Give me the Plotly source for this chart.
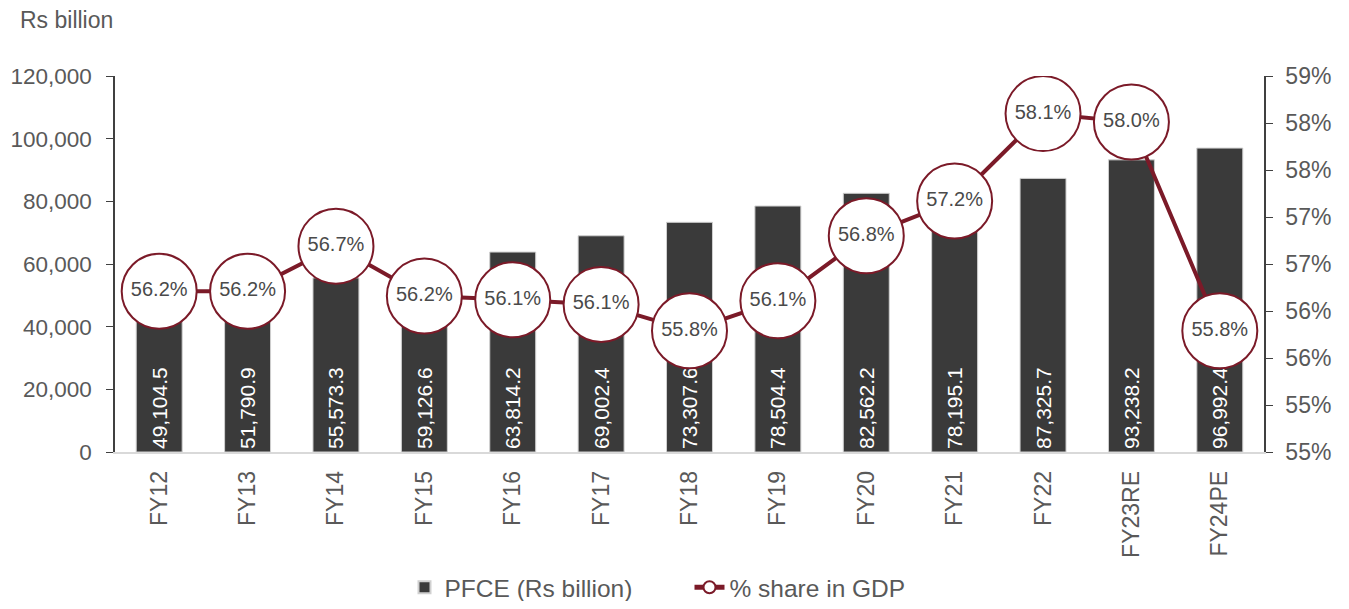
import plotly.graph_objects as go

years = ["FY12", "FY13", "FY14", "FY15", "FY16", "FY17", "FY18", "FY19",
         "FY20", "FY21", "FY22", "FY23RE", "FY24PE"]
pfce = [49104.5, 51790.9, 55573.3, 59126.6, 63814.2, 69002.4, 73307.6, 78504.4,
        82562.2, 78195.1, 87325.7, 93238.2, 96992.4]
share = [56.21, 56.21, 56.69, 56.16, 56.12, 56.07, 55.79, 56.11,
         56.80, 57.17, 58.10, 58.01, 55.79]
pct_ticks = [54.5, 55.0, 55.5, 56.0, 56.5, 57.0, 57.5, 58.0, 58.5]
pct_labels = ["55%", "55%", "56%", "56%", "57%", "57%", "58%", "58%", "59%"]

grey = "#595959"
maroon = "#7B1A28"
font = "Liberation Sans"

fig = go.Figure()
fig.add_trace(go.Bar(
    x=years, y=pfce, name="PFCE (Rs billion)",
    marker=dict(color="#3A3A3A", line=dict(color="#D0D0D0", width=1)),
    texttemplate="%{y:,.1f}", textposition="inside", textangle=-90,
    insidetextanchor="start",
    textfont=dict(color="white", size=21, family=font),
))
fig.add_trace(go.Scatter(
    x=years, y=share, name="% share in GDP", yaxis="y2",
    mode="lines+markers+text",
    line=dict(color=maroon, width=4),
    marker=dict(size=75, color="white", line=dict(color=maroon, width=2)),
    texttemplate="%{y:.1f}%", textposition="middle center",
    textfont=dict(color="#4A4A4A", size=20, family=font),
))

# page body has an 8px default margin, so the figure is 16px smaller
fig.update_layout(
    width=1333, height=593,
    margin=dict(l=107, r=77, t=68, b=149, autoexpand=False),
    plot_bgcolor="white", paper_bgcolor="white",
    font=dict(family=font, color=grey, size=22),
    bargap=0.48,
    showlegend=True,
    legend=dict(orientation="h", x=0.5, xanchor="center", y=-0.36, yanchor="middle",
                font=dict(size=24.5, color=grey), itemsizing="constant",
                entrywidth=240, entrywidthmode="pixels"),
    xaxis=dict(range=[-0.5, len(years) - 0.5], tickangle=-90, showline=True,
               linecolor="#D9D9D9", linewidth=1.5,
               ticks="", tickfont=dict(size=23, color=grey), automargin=False,
               ticklabelstandoff=8),
    yaxis=dict(range=[0, 120000], dtick=20000, tickformat=",", showgrid=False,
               showline=True, linecolor="#404040", linewidth=1.5,
               ticks="outside", ticklen=7, tickcolor="#404040", zeroline=False,
               tickfont=dict(size=22.5, color=grey), automargin=False,
               ticklabelstandoff=10),
    yaxis2=dict(range=[54.5, 58.5], overlaying="y", side="right",
                tickvals=pct_ticks, ticktext=pct_labels, showgrid=False,
                showline=True, linecolor="#404040", linewidth=1.5,
                ticks="outside", ticklen=7, tickcolor="#404040", zeroline=False,
                tickfont=dict(size=23, color=grey), automargin=False,
                ticklabelstandoff=8),
    annotations=[dict(text="Rs billion", xref="paper", yref="paper",
                      x=-0.0844, y=1.149, xanchor="left", yanchor="middle",
                      showarrow=False, font=dict(size=23, color=grey))],
)

fig.write_html("out.html")
